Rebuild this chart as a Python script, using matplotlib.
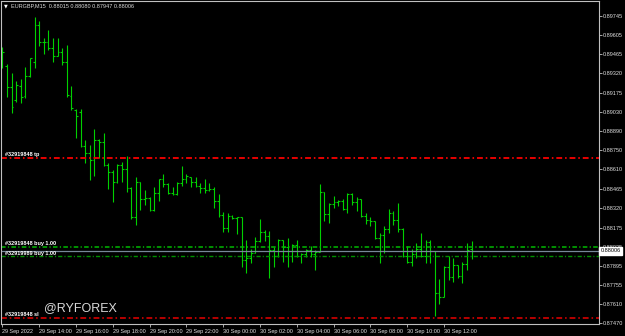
import matplotlib
matplotlib.use('Agg')
import matplotlib.pyplot as plt
import matplotlib.transforms as mtransforms
import numpy as np

plt.rcParams['font.family'] = ['Liberation Sans', 'DejaVu Sans']

# ---- data (EURGBP M15, 29 Sep 2022 12:00 -> 30 Sep 13:30) ----
opens = [
    .89375, .89375, .89219, .89123, .89227, .89153, .89301, .89405, .89679, .89553,
    .89553, .89508, .89449, .89479, .89405, .89153, .89049, .89034, .88782, .88730,
    .88678, .88827, .88812, .88641, .88589, .88515, .88641, .88612, .88471, .88256,
    .88515, .88389, .88397, .88308, .88434, .88538, .88501, .88434, .88426, .88508,
    .88538, .88552, .88515, .88486, .88471, .88456, .88464, .88375, .88271, .88175,
    .88263, .88249, .88256, .87937, .87952, .87989, .88078, .88145, .88115, .88011,
    .87967, .88086, .88034, .87967, .88049, .87967, .87982, .88011, .87982, .87997,
    .88441, .88278, .88352, .88367, .88375, .88315, .88426, .88367, .88389, .88263,
    .88234, .88226, .88100, .88123, .88167, .88286, .88234, .88167, .87967, .87923,
    .87982, .88019, .87967, .88071, .88004, .87693, .87663, .87886, .87811, .87900,
    .87819, .87908, .88015]
highs = [
    .89516, .89390, .89323, .89264, .89279, .89368, .89434, .89738, .89708, .89582,
    .89642, .89582, .89582, .89508, .89531, .89227, .89056, .89056, .88827, .88790,
    .88908, .88834, .88878, .88656, .88604, .88649, .88664, .88708, .88478, .88552,
    .88515, .88456, .88404, .88478, .88538, .88575, .88508, .88478, .88515, .88634,
    .88575, .88552, .88552, .88508, .88538, .88508, .88478, .88426, .88293, .88286,
    .88271, .88256, .88256, .88086, .88019, .88108, .88241, .88160, .88152, .88034,
    .88093, .88086, .88100, .88056, .88086, .87989, .88019, .88041, .88011, .88501,
    .88441, .88360, .88412, .88382, .88389, .88434, .88434, .88404, .88389, .88286,
    .88256, .88226, .88137, .88189, .88315, .88300, .88360, .88175, .88041, .88019,
    .88063, .88137, .88086, .88086, .88004, .87797, .87893, .87967, .87952, .87900,
    .87923, .88063, .88080]
lows = [
    .89360, .89145, .89027, .89108, .89101, .89138, .89293, .89360, .89523, .89464,
    .89493, .89405, .89449, .89382, .89145, .89049, .88841, .88775, .88656, .88530,
    .88560, .88693, .88634, .88464, .88367, .88508, .88515, .88441, .88241, .88197,
    .88308, .88345, .88300, .88300, .88375, .88478, .88426, .88419, .88419, .88486,
    .88508, .88478, .88478, .88434, .88434, .88449, .88323, .88256, .88145, .88145,
    .88241, .88130, .87886, .87841, .87915, .87989, .88071, .88078, .87804, .87886,
    .87960, .87923, .87886, .87923, .87960, .87915, .87960, .87960, .87863, .87997,
    .88226, .88212, .88323, .88338, .88308, .88286, .88345, .88300, .88256, .88204,
    .88189, .88093, .87915, .87989, .88137, .88197, .88145, .87960, .87915, .87893,
    .87952, .87960, .87915, .87915, .87522, .87611, .87663, .87789, .87774, .87804,
    .87767, .87863, .87947]
closes = [
    .89479, .89219, .89071, .89234, .89145, .89301, .89434, .89679, .89553, .89553,
    .89508, .89449, .89479, .89405, .89160, .89064, .89004, .88782, .88730, .88678,
    .88827, .88812, .88641, .88589, .88515, .88641, .88612, .88471, .88256, .88515,
    .88389, .88397, .88308, .88434, .88538, .88501, .88434, .88426, .88508, .88538,
    .88560, .88515, .88486, .88471, .88456, .88464, .88375, .88271, .88175, .88263,
    .88249, .88256, .87937, .87952, .87989, .88078, .88145, .88115, .88011, .87967,
    .88086, .88034, .87967, .88049, .87967, .87982, .88011, .87982, .87997, .88441,
    .88278, .88352, .88367, .88375, .88315, .88426, .88367, .88389, .88263, .88234,
    .88226, .88100, .88123, .88167, .88286, .88234, .88167, .87967, .87923, .87982,
    .88019, .87967, .88071, .88004, .87693, .87663, .87886, .87811, .87900, .87819,
    .87908, .88011, .88006]

time_tick_bars = [0, 8, 16, 24, 32, 40, 48, 56, 64, 72, 80, 88, 96]
time_labels = ['29 Sep 2022', '29 Sep 14:00', '29 Sep 16:00', '29 Sep 18:00',
               '29 Sep 20:00', '29 Sep 22:00', '30 Sep 00:00', '30 Sep 02:00',
               '30 Sep 04:00', '30 Sep 06:00', '30 Sep 08:00', '30 Sep 10:00',
               '30 Sep 12:00']
price_ticks = [0.89745, 0.89605, 0.89465, 0.89320, 0.89175, 0.89030, 0.88890,
               0.88750, 0.88610, 0.88465, 0.88320, 0.88175, 0.88035, 0.87895,
               0.87755, 0.87610, 0.87470]

tp_price = 0.88695
sl_price = 0.87509
buy1_price = 0.88036
buy2_price = 0.87964
bid_price = 0.88006

# ---- figure ----
W, H = 625, 336
fig = plt.figure(figsize=(W / 100, H / 100), dpi=100, facecolor='black')
ax = fig.add_axes([1 / W, 12 / H, 598 / W, 323 / H], facecolor='black')

bar_color = '#00d000'
x = np.arange(len(closes))
ax.vlines(x, lows, highs, color=bar_color, lw=0.8)
ax.hlines(opens, x - 0.4, x, color=bar_color, lw=0.8)
ax.hlines(closes, x, x + 0.4, color=bar_color, lw=0.8)

ax.set_xlim(-0.3, 129.7)
ax.set_ylim(0.87463, 0.89856)

# order lines
ax.axhline(tp_price, color='#e80000', lw=1.4, ls=(0, (3, 1.5, 0.8, 1.5)))
ax.axhline(sl_price, color='#b80000', lw=1.4, ls=(0, (3, 1.5, 0.8, 1.5)))
ax.axhline(buy1_price, color='#00b800', lw=1.1, ls=(0, (3, 1.5, 0.8, 1.5)))
ax.axhline(buy2_price, color='#009000', lw=1.0, ls=(0, (3, 1.5, 0.8, 1.5)))
ax.axhline(bid_price, color='#778899', lw=0.9)

trans = mtransforms.blended_transform_factory(ax.transAxes, ax.transData)
lab_kw = dict(transform=trans, fontsize=4, color='white', fontweight='bold',
              va='bottom', ha='left')
ax.text(0.007, tp_price + 0.00004, '#32919848 tp', **lab_kw)
ax.text(0.007, buy1_price + 0.00004, '#32919848 buy 1.00', **lab_kw)
ax.text(0.007, buy2_price + 0.00004, '#32919989 buy 1.00', **lab_kw)
ax.text(0.007, sl_price + 0.00004, '#32919848 sl', **lab_kw)

# axes styling
for side in ['left', 'right', 'top', 'bottom']:
    ax.spines[side].set_color('#c0c0c0')
    ax.spines[side].set_linewidth(0.8)

ax.yaxis.tick_right()
ax.set_yticks(price_ticks)
ax.set_yticklabels(['%.5f' % p for p in price_ticks])
ax.tick_params(axis='y', colors='#c0c0c0', labelcolor='#e0e0e0', labelsize=4,
               length=2, width=0.6, pad=1)

ax.set_xticks(time_tick_bars)
ax.set_xticklabels(time_labels)
ax.tick_params(axis='x', colors='#c0c0c0', labelcolor='#e0e0e0', labelsize=4,
               length=2, width=0.6, pad=1.5)
for lbl in ax.get_xticklabels():
    lbl.set_ha('left')

# bid price box
ax.text(1.003, bid_price, '%.5f' % bid_price, transform=trans, fontsize=4,
        color='black', ha='left', va='center',
        bbox=dict(facecolor='white', edgecolor='white', boxstyle='square,pad=0.25'))

# header
fig.text(4 / W, 1 - 6 / H, '\u25bc', fontsize=3.5, color='white', va='center',
         family=['DejaVu Sans'])
fig.text(11 / W, 1 - 6 / H, 'EURGBP,M15  0.88015 0.88080 0.87947 0.88006',
         fontsize=4, color='#dcdcdc', va='center')

# watermark
fig.text(44 / W, 1 - 308 / H, '@RYFOREX', fontsize=9, color='#d8d8d8',
         va='center', ha='left')

fig.savefig('out.png', dpi=100, facecolor='black')
